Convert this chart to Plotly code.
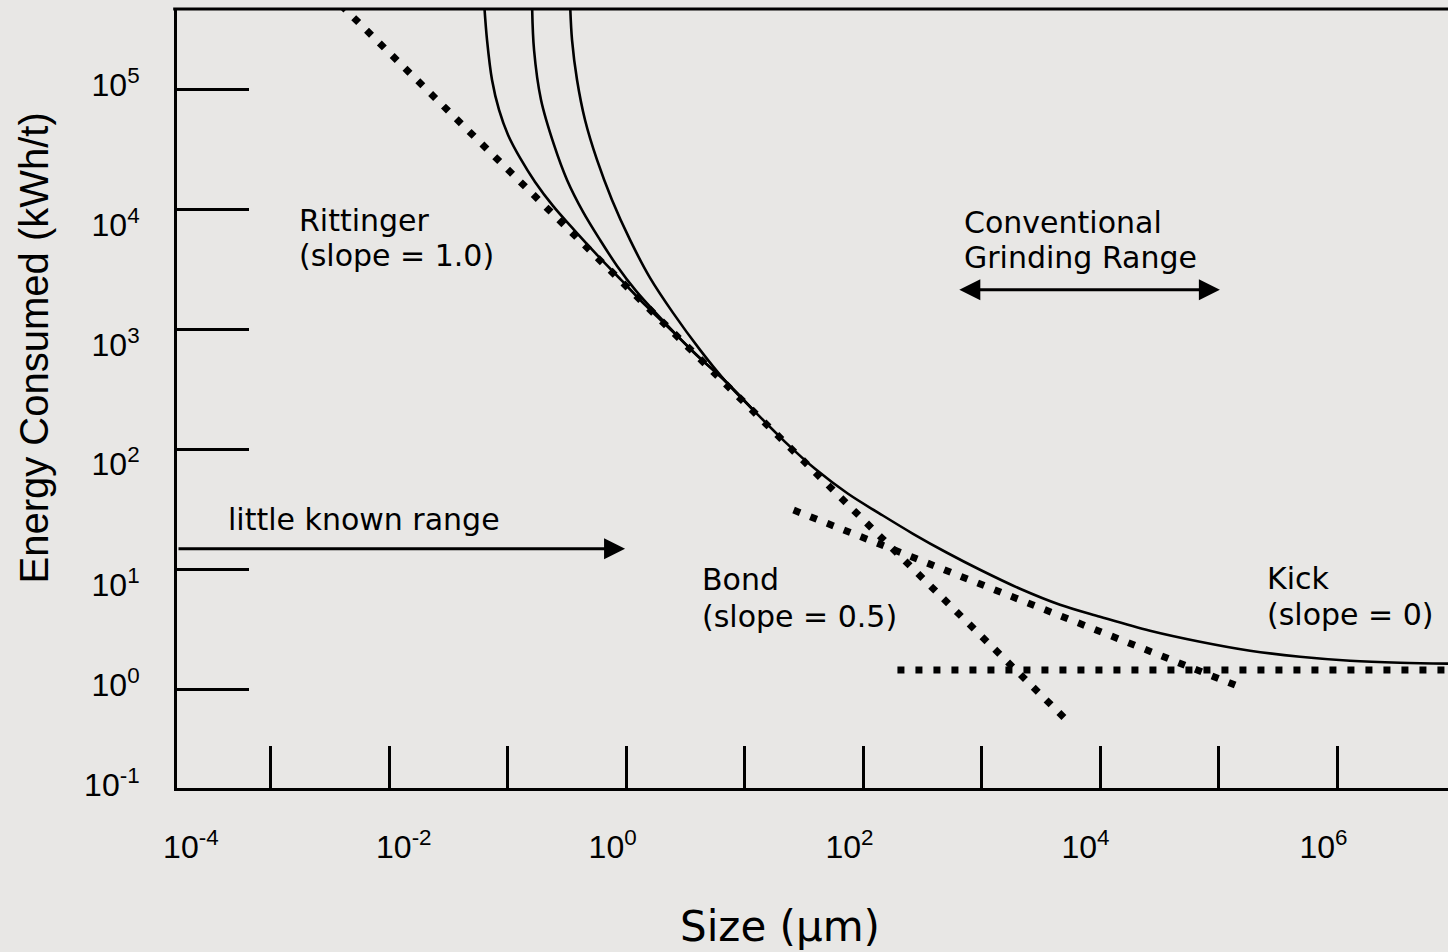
import math
import plotly.graph_objects as go

# ---------------- data ----------------
# size in µm, specific energy in kWh/t
outer_size = [0.3349, 0.3482, 0.3837, 0.4481, 0.5658, 0.7571, 1.0745, 1.585, 2.478, 4.187,
              6.940, 11.96, 21.84, 39.13, 74.30, 138.3, 262.7, 508.5, 965.6, 2101,
              4569, 9943, 26270, 69400, 183400, 484500, 1280000, 3382000, 10850000]
outer_energy = [531000, 256200, 119000, 55240, 25650, 11910, 5528, 2668, 1363, 670.5,
                362.9, 208.1, 114.8, 68.41, 42.35, 28.85, 19.66, 13.66, 9.858, 6.846,
                5.038, 4.002, 3.059, 2.477, 2.085, 1.858, 1.721, 1.656, 1.624]

middle_size = [0.1600, 0.1664, 0.1906, 0.2454, 0.3159, 0.4312, 0.5999, 0.8346, 1.207,
               2.121, 3.655, 6.940, 11.96]
middle_energy = [531000, 211500, 81080, 34200, 17470, 9459, 5528, 3357, 2079,
                 1125, 645.3, 362.9, 208.1]

inner_size = [0.06298, 0.06675, 0.07356, 0.08428, 0.1004, 0.1268, 0.1697, 0.2406,
              0.3620, 0.5658, 0.9021, 1.466, 2.527, 4.353, 6.940, 11.96]
inner_energy = [531000, 256200, 119000, 66920, 41430, 26660, 16820, 10610,
                6696, 4147, 2567, 1559, 928.8, 553.4, 362.9, 208.1]

rittinger_size = [0.0039, 5400]
rittinger_energy = [501000, 0.53]
bond_size = [25.8, 158000]
bond_energy = [31.0, 1.02]
kick_size = [194, 11000000]
kick_energy = [1.44, 1.44]

little_known_end_size = 0.975
little_known_energy = 14.75
grinding_range_sizes = [627, 102000]
grinding_range_energy = 2120

x_tick_marks = [1e-3, 1e-2, 1e-1, 1e0, 1e1, 1e2, 1e3, 1e4, 1e5, 1e6]
y_tick_marks = [1e0, 1e1, 1e2, 1e3, 1e4, 1e5]
x_tick_text = ["10<sup>-4</sup>", "10<sup>-2</sup>", "10<sup>0</sup>",
               "10<sup>2</sup>", "10<sup>4</sup>", "10<sup>6</sup>"]
y_tick_text = ["10<sup>5</sup>", "10<sup>4</sup>", "10<sup>3</sup>", "10<sup>2</sup>",
               "10<sup>1</sup>", "10<sup>0</sup>", "10<sup>-1</sup>"]

# label placement as drawn in the picture (log10 units)
x_label_pos = [-3.675, -1.878, -0.116, 1.883, 3.875, 5.883]
y_label_pos = [5.033, 3.867, 2.867, 1.875, 0.867, 0.033, -0.80]

BG = "#e8e7e5"
FONT_TICK = "Liberation Sans, Arial, sans-serif"
FONT_TXT = "DejaVu Sans, sans-serif"

fig = go.Figure()


def solid(x, y):
    fig.add_trace(go.Scatter(x=x, y=y, mode="lines",
                             line=dict(color="black", width=2.6, shape="spline", smoothing=1.0),
                             hoverinfo="skip", showlegend=False))


def dotted(x, y):
    fig.add_trace(go.Scatter(x=x, y=y, mode="lines",
                             line=dict(color="black", width=7, dash="7px,11px"),
                             hoverinfo="skip", showlegend=False))


solid(outer_size, outer_energy)
solid(middle_size, middle_energy)
solid(inner_size, inner_energy)
dotted(rittinger_size, rittinger_energy)
dotted(bond_size, bond_energy)
dotted(kick_size, kick_energy)

X_RANGE = [-3.792, 6.934]
Y_RANGE = [-0.825, 5.667]

annotations = []


def text(s, x, y, size=30, font=FONT_TXT):
    annotations.append(dict(text=s, x=x, y=y, xref="x", yref="y", showarrow=False,
                            xanchor="left", yanchor="middle",
                            font=dict(family=font, size=size, color="black")))


text("Rittinger", -2.779, 3.901)
text("(slope = 1.0)", -2.779, 3.609)
text("Conventional", 2.830, 3.888)
text("Grinding Range", 2.830, 3.597)
text("little known range", -3.378, 1.410)
text("Bond", 0.622, 0.911)
text("(slope = 0.5)", 0.622, 0.606)
text("Kick", 5.390, 0.919)
text("(slope = 0)", 5.390, 0.619)

# arrows
annotations.append(dict(text="", x=math.log10(little_known_end_size), y=math.log10(little_known_energy),
                        ax=X_RANGE[0], ay=math.log10(little_known_energy),
                        xref="x", yref="y", axref="x", ayref="y", showarrow=True,
                        arrowhead=2, arrowsize=1.4, arrowwidth=3, arrowcolor="black", standoff=0))
annotations.append(dict(text="", x=math.log10(grinding_range_sizes[1]), y=math.log10(grinding_range_energy),
                        ax=math.log10(grinding_range_sizes[0]), ay=math.log10(grinding_range_energy),
                        xref="x", yref="y", axref="x", ayref="y", showarrow=True,
                        arrowside="end+start", arrowhead=2, startarrowhead=2,
                        arrowsize=1.4, startarrowsize=1.4, arrowwidth=3, arrowcolor="black",
                        standoff=0, startstandoff=0))

# axis titles
annotations.append(dict(text="Energy Consumed (kWh/t)", x=-0.1125, y=0.5642, xref="paper", yref="paper",
                        showarrow=False, textangle=-90, xanchor="center", yanchor="middle",
                        font=dict(family=FONT_TICK, size=40, color="black")))
annotations.append(dict(text="Size (µm)", x=0.4744, y=-0.1784, xref="paper", yref="paper",
                        showarrow=False, xanchor="center", yanchor="middle",
                        font=dict(family=FONT_TXT, size=42, color="black")))

fig.update_layout(
    template="none",
    width=1448, height=952,
    margin=dict(l=177, r=0, t=9, b=164, pad=0),
    paper_bgcolor=BG, plot_bgcolor=BG,
    showlegend=False,
    annotations=annotations,
    shapes=[dict(type="line", xref="paper", yref="paper", x0=-0.003, x1=1, y0=1, y1=1,
                 line=dict(color="black", width=3))],
    xaxis=dict(type="log", range=X_RANGE, autorange=False, automargin=False,
               showline=True, linecolor="black", linewidth=3, mirror=False,
               showgrid=False, zeroline=False,
               tickmode="array", tickvals=[10 ** v for v in x_label_pos], ticktext=x_tick_text,
               ticks="outside", ticklen=29, tickcolor="rgba(0,0,0,0)",
               tickfont=dict(family=FONT_TICK, size=32, color="black"),
               minor=dict(tickmode="array", tickvals=x_tick_marks, ticks="inside",
                          ticklen=42, tickwidth=3, tickcolor="black", showgrid=False)),
    yaxis=dict(type="log", range=Y_RANGE, autorange=False, automargin=False,
               showline=True, linecolor="black", linewidth=3, mirror=False,
               showgrid=False, zeroline=False,
               tickmode="array", tickvals=[10 ** v for v in y_label_pos], ticktext=y_tick_text,
               ticks="outside", ticklen=28, tickcolor="rgba(0,0,0,0)",
               tickfont=dict(family=FONT_TICK, size=32, color="black"),
               minor=dict(tickmode="array", tickvals=y_tick_marks, ticks="inside",
                          ticklen=72, tickwidth=3, tickcolor="black", showgrid=False)),
)

fig.write_html("out.html")
